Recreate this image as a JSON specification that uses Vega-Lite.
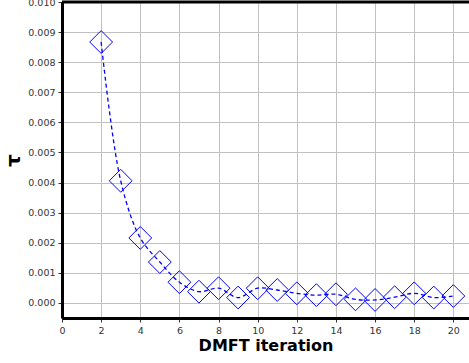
{
  "$schema": "https://vega.github.io/schema/vega-lite/v6.json",
  "width": 407,
  "height": 316,
  "autosize": {"type": "none"},
  "padding": {"left": 62, "top": 2, "right": 0, "bottom": 45},
  "config": {
    "view": {"stroke": null},
    "font": "DejaVu Sans",
    "axis": {
      "grid": true,
      "gridColor": "#c0c0c0",
      "gridWidth": 1,
      "gridOpacity": 1,
      "domainColor": "black",
      "domainWidth": 3,
      "tickColor": "#333333",
      "tickSize": 4,
      "labelFont": "DejaVu Sans",
      "labelFontSize": 9.5,
      "labelColor": "#333333",
      "labelOverlap": false,
      "labelFlush": false,
      "titleFont": "DejaVu Sans",
      "titleFontWeight": "bold",
      "titleColor": "black"
    }
  },
  "data": {
    "values": [
      {"iter": 2, "tau": 0.00867},
      {"iter": 3, "tau": 0.00406},
      {"iter": 4, "tau": 0.00216},
      {"iter": 5, "tau": 0.00136},
      {"iter": 6, "tau": 0.00069},
      {"iter": 7, "tau": 0.000375},
      {"iter": 8, "tau": 0.00049},
      {"iter": 9, "tau": 0.00018},
      {"iter": 10, "tau": 0.00049},
      {"iter": 11, "tau": 0.00043},
      {"iter": 12, "tau": 0.00032},
      {"iter": 13, "tau": 0.00026},
      {"iter": 14, "tau": 0.00029},
      {"iter": 15, "tau": 0.00012},
      {"iter": 16, "tau": 0.0001},
      {"iter": 17, "tau": 0.00019},
      {"iter": 18, "tau": 0.00032},
      {"iter": 19, "tau": 0.00018},
      {"iter": 20, "tau": 0.00023}
    ]
  },
  "encoding": {
    "x": {
      "field": "iter", "type": "quantitative",
      "scale": {"domain": [0, 20.8], "nice": false, "zero": false},
      "axis": {"values": [0, 2, 4, 6, 8, 10, 12, 14, 16, 18, 20], "title": "DMFT iteration", "titleFontSize": 16, "titlePadding": 3, "labelPadding": 3}
    },
    "y": {
      "field": "tau", "type": "quantitative",
      "scale": {"domain": [-0.0005, 0.010], "nice": false, "zero": false},
      "axis": {"values": [0, 0.001, 0.002, 0.003, 0.004, 0.005, 0.006, 0.007, 0.008, 0.009, 0.010], "format": ".3f", "title": "τ", "titleFontSize": 20, "titlePadding": 4, "labelPadding": 3, "labelOverlap": false}
    }
  },
  "layer": [
    {
      "mark": {"type": "line", "color": "blue", "strokeWidth": 1.3, "strokeDash": [4, 3], "interpolate": "catmull-rom", "clip": true}
    },
    {
      "mark": {"type": "point", "shape": "diamond", "size": 520, "filled": false, "stroke": "blue", "strokeWidth": 1, "opacity": 1}
    },
    {
      "data": {"values": [{"top": 0.010}]},
      "mark": {"type": "rule", "color": "black", "strokeWidth": 3},
      "encoding": {
        "x": null,
        "y": {"field": "top", "type": "quantitative"}
      }
    }
  ]
}
